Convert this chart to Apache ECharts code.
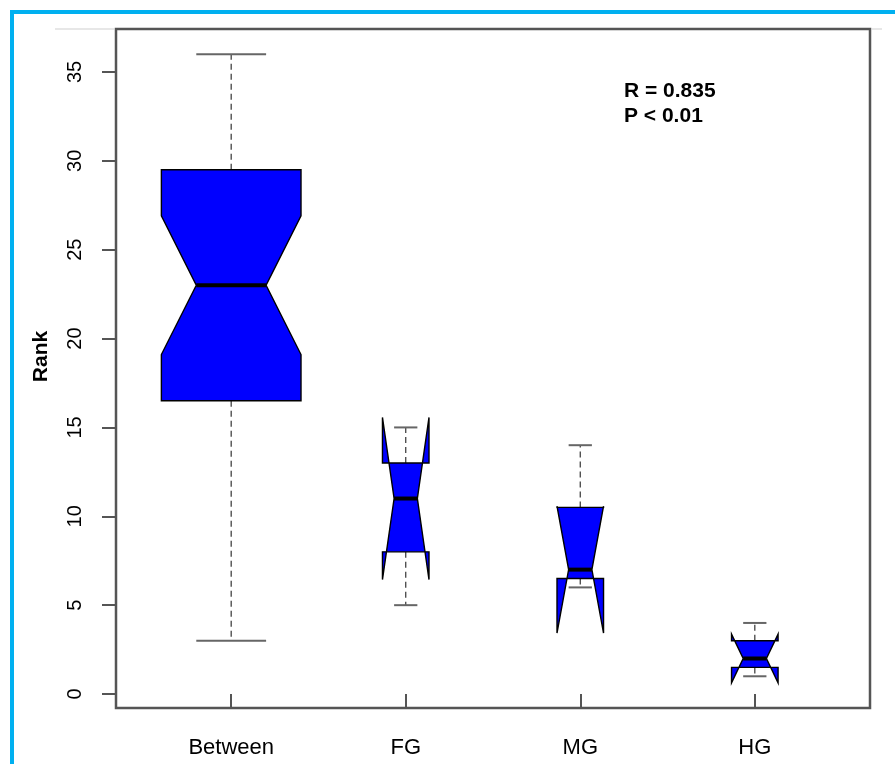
<!DOCTYPE html>
<html><head><meta charset="utf-8">
<script src="https://cdn.jsdelivr.net/npm/echarts@6/dist/echarts.min.js"></script>
<style>html,body{margin:0;padding:0;background:#fff}#c{width:895px;height:764px}</style>
</head><body><div id="c"></div>
<script>
// ---- data ----
const categories = ['Between', 'FG', 'MG', 'HG'];
const whiskerLow  = [3, 5, 6, 1];
const lowerHinge  = [16.5, 8, 6.5, 1.5];
const medians     = [23, 11, 7, 2];
const upperHinge  = [29.5, 13, 10.5, 3];
const whiskerHigh = [36, 15, 14, 4];
const notchLow    = [19.1, 6.44, 3.43, 0.63];
const notchHigh   = [26.9, 15.56, 10.57, 3.37];
const groupSizes  = [27, 3, 3, 3];
const yTicks = [0, 5, 10, 15, 20, 25, 30, 35];
const xTicks = [1, 2, 3, 4];
const annotation = ['R = 0.835', 'P < 0.01'];

const FONT = "'Liberation Sans', Arial, Helvetica, sans-serif";
const data = categories.map((c, i) => [i + 1, whiskerLow[i], lowerHinge[i], medians[i], upperHinge[i], whiskerHigh[i], notchLow[i], notchHigh[i], groupSizes[i]]);
const maxSqrtN = Math.max(...groupSizes.map(Math.sqrt));

function renderItem(params, api) {
  const x = api.value(0);
  const unit = api.size([1, 0])[0];
  const w = unit * 0.8 * Math.sqrt(api.value(8)) / maxSqrtN;
  const cx = api.coord([x, 0])[0];
  const Y = v => api.coord([x, v])[1];
  const xl = cx - w / 2, xr = cx + w / 2, ml = cx - w / 4, mr = cx + w / 4;
  const yMin = Y(api.value(1)), yQ1 = Y(api.value(2)), yMed = Y(api.value(3)),
        yQ3 = Y(api.value(4)), yMax = Y(api.value(5)), yNl = Y(api.value(6)), yNh = Y(api.value(7));
  const dash = { stroke: '#444', lineWidth: 1.3, lineDash: [6, 4] };
  const staple = { stroke: '#666', lineWidth: 2 };
  return {
    type: 'group', children: [
      { type: 'line', shape: { x1: cx, y1: yQ3, x2: cx, y2: yMax }, style: dash },
      { type: 'line', shape: { x1: cx, y1: yQ1, x2: cx, y2: yMin }, style: dash },
      { type: 'line', shape: { x1: cx - w / 4, y1: yMax, x2: cx + w / 4, y2: yMax }, style: staple },
      { type: 'line', shape: { x1: cx - w / 4, y1: yMin, x2: cx + w / 4, y2: yMin }, style: staple },
      { type: 'polygon', shape: { points: [[xl, yQ1], [xl, yNl], [ml, yMed], [xl, yNh], [xl, yQ3], [xr, yQ3], [xr, yNh], [mr, yMed], [xr, yNl], [xr, yQ1]] },
        style: { fill: '#0000ff', stroke: '#000', lineWidth: 1.4 } },
      { type: 'line', shape: { x1: ml, y1: yMed, x2: mr, y2: yMed }, style: { stroke: '#000', lineWidth: 4 } }
    ]
  };
}

const chart = echarts.init(document.getElementById('c'), null, { renderer: 'canvas' });
chart.setOption({
  animation: false,
  backgroundColor: '#fff',
  textStyle: { fontFamily: FONT },
  title: {
    text: annotation.join('\n'), left: 624, top: 79, padding: 0,
    textStyle: { fontFamily: FONT, fontSize: 21, fontWeight: 'bold', color: '#000', lineHeight: 25 }
  },
  graphic: [
    { type: 'rect', shape: { x: 12, y: 12, width: 1000, height: 1000 }, style: { fill: 'none', stroke: '#00b0f0', lineWidth: 4 }, z: 10 },
    { type: 'line', shape: { x1: 55, y1: 29, x2: 115, y2: 29 }, style: { stroke: '#cfcfcf', lineWidth: 1 } },
    { type: 'line', shape: { x1: 871, y1: 29, x2: 882, y2: 29 }, style: { stroke: '#cfcfcf', lineWidth: 1 } }
  ],
  grid: { left: 116, right: 25, top: 29, bottom: 56, show: true, borderColor: '#555', borderWidth: 2.5, backgroundColor: 'transparent' },
  xAxis: {
    type: 'value', min: 0.34, max: 4.66,
    axisLine: { show: false }, splitLine: { show: false },
    axisTick: { show: true, customValues: xTicks, length: 14, lineStyle: { color: '#555', width: 2 } },
    axisLabel: { customValues: xTicks, formatter: v => categories[Math.round(v) - 1], fontSize: 22, margin: 29, color: '#000', fontFamily: FONT }
  },
  yAxis: {
    type: 'value', min: -0.785, max: 37.415,
    axisLine: { show: false }, splitLine: { show: false },
    axisTick: { show: true, customValues: yTicks, length: 14, lineStyle: { color: '#555', width: 2 } },
    axisLabel: { customValues: yTicks, rotate: 90, fontSize: 20, margin: 31, color: '#000', fontFamily: FONT },
    name: 'Rank', nameLocation: 'middle', nameGap: 64, nameRotate: 90,
    nameTextStyle: { fontSize: 21, fontWeight: 'bold', color: '#000', fontFamily: FONT, padding: [0, 0, 0, 24] }
  },
  series: [{ type: 'custom', renderItem: renderItem, data: data, encode: { x: 0, y: [1, 2, 3, 4, 5] }, clip: false }]
});
</script>
</body></html>
